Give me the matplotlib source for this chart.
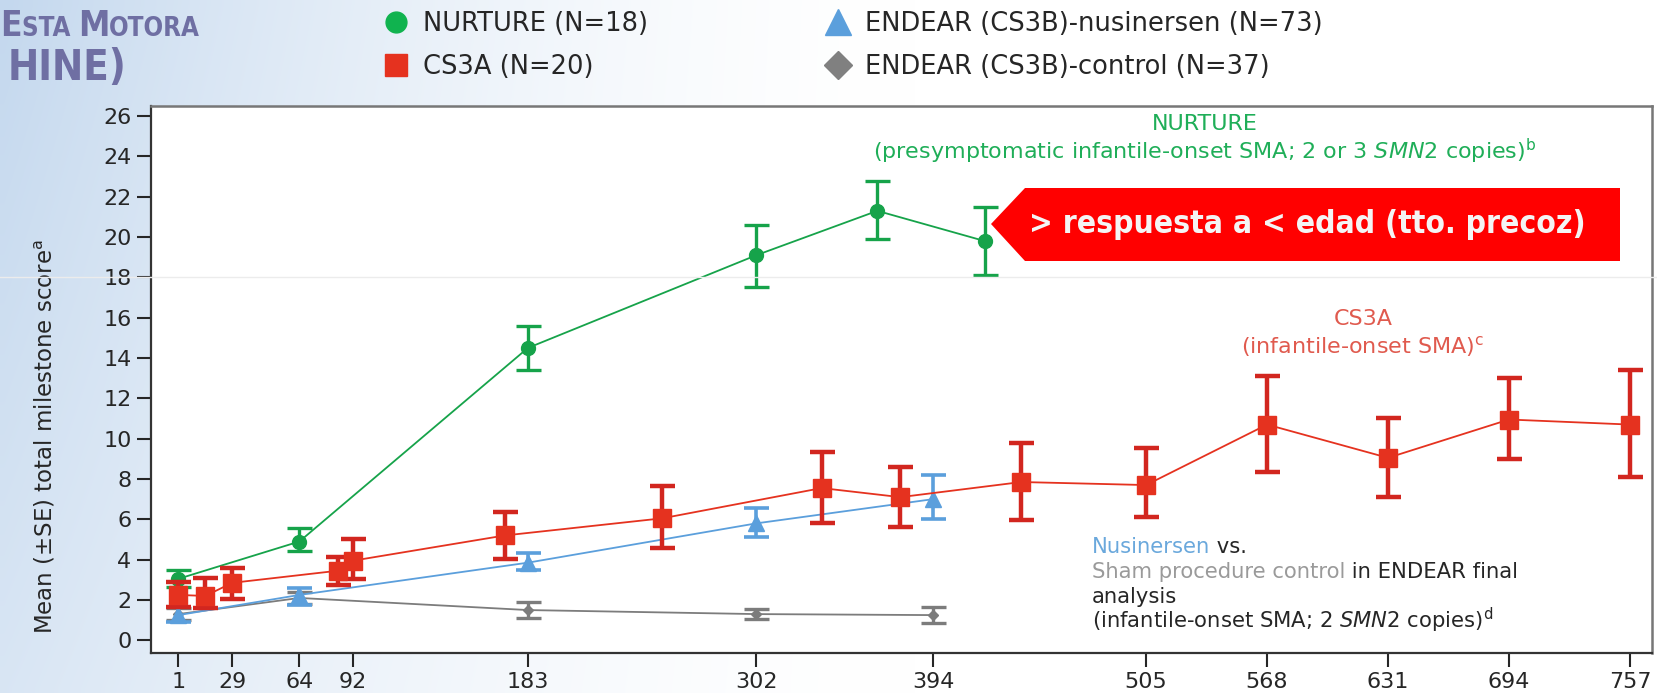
import numpy as np
import matplotlib
matplotlib.use('Agg')
import matplotlib.pyplot as plt
from matplotlib import font_manager
from matplotlib.font_manager import FontProperties
from matplotlib.lines import Line2D
from matplotlib.patches import Polygon

W, H = 1657, 693

# NURTURE
nurture_days = [1, 64, 183, 302, 365, 421]
nurture_mean = [3.05, 4.9, 14.5, 19.1, 21.3, 19.8]
nurture_lo = [2.65, 4.45, 13.4, 17.5, 19.9, 18.1]
nurture_hi = [3.5, 5.55, 15.6, 20.6, 22.8, 21.5]

# CS3A
cs3a_days = [1, 15, 29, 84, 92, 171, 253, 336, 377, 440, 505, 568, 631, 694, 757]
cs3a_mean = [2.25, 2.2, 2.85, 3.45, 3.95, 5.2, 6.05, 7.55, 7.1, 7.85, 7.7, 10.7, 9.05, 10.95, 10.7]
cs3a_lo = [1.65, 1.6, 2.05, 2.75, 3.05, 4.05, 4.6, 5.8, 5.6, 5.95, 6.1, 8.35, 7.1, 9.0, 8.1]
cs3a_hi = [2.9, 3.1, 3.6, 4.15, 5.0, 6.35, 7.65, 9.35, 8.6, 9.8, 9.55, 13.1, 11.05, 13.0, 13.4]

# ENDEAR nusinersen
nus_days = [1, 64, 183, 302, 394]
nus_mean = [1.25, 2.25, 3.85, 5.8, 7.0]
nus_lo = [0.9, 1.75, 3.5, 5.1, 6.0]
nus_hi = [1.65, 2.6, 4.35, 6.55, 8.2]

# ENDEAR control
ctrl_days = [1, 64, 183, 302, 394]
ctrl_mean = [1.3, 2.1, 1.5, 1.3, 1.25]
ctrl_lo = [1.0, 1.8, 1.1, 1.05, 0.85]
ctrl_hi = [1.6, 2.4, 1.9, 1.55, 1.65]

xticks = [1, 29, 64, 92, 183, 302, 394, 505, 568, 631, 694, 757]
yticks = list(range(0, 27, 2))

legend_labels = ['NURTURE (N=18)', 'CS3A (N=20)',
                 'ENDEAR (CS3B)-nusinersen (N=73)', 'ENDEAR (CS3B)-control (N=37)']

GREEN = '#16a34a'
RED = '#e5321f'
RED_E = '#d2261f'
BLUE = '#5b9fdc'
GRAY = '#7c7c7c'
DARK = '#262626'


def pick_narrow():
    for fam in ['Liberation Sans Narrow', 'Arial Narrow']:
        try:
            font_manager.findfont(FontProperties(family=fam, weight='bold'), fallback_to_default=False)
            return dict(family=fam), 1.0
        except ValueError:
            pass
    p = font_manager.findfont(FontProperties(family='DejaVu Sans', stretch='condensed', weight='bold'))
    if 'Condensed' in p:
        return dict(family='DejaVu Sans', stretch='condensed'), 0.76
    return dict(family='DejaVu Sans'), 0.68


plt.rcParams['font.family'] = ['DejaVu Sans']
plt.rcParams['mathtext.fontset'] = 'dejavusans'
narrow, nscale = pick_narrow()

fig = plt.figure(figsize=(W / 100, H / 100), dpi=100)
renderer = fig.canvas.get_renderer()

# fondo degradado de la diapositiva
bg = fig.add_axes([0, 0, 1, 1], zorder=-10)
gx, gy = np.meshgrid(np.linspace(0, 1, 200), np.linspace(0, 1, 80))
t = np.clip(1 - gx / 0.55, 0, 1) ** 1.6 * (1 - 0.35 * gy)
base = np.array([196, 216, 238]) / 255
img = 1 - t[..., None] * (1 - base)
bg.imshow(img, aspect='auto', interpolation='bilinear')
bg.axis('off')

ax = fig.add_axes([151 / W, 1 - 653 / H, 1501 / W, 547 / H])
ax.set_facecolor('white')


def series(days, mean, lo, hi, color, ecolor, marker, ms, elw, z):
    mean = np.array(mean)
    err = [mean - np.array(lo), np.array(hi) - mean]
    ax.plot(days, mean, color=color, lw=1.3, zorder=z)
    ax.errorbar(days, mean, yerr=err, fmt=marker, color=color, mec=color, ms=ms,
                ecolor=ecolor, elinewidth=elw, capsize=9, capthick=elw, zorder=z + 0.5)


series(ctrl_days, ctrl_mean, ctrl_lo, ctrl_hi, GRAY, GRAY, 'D', 5, 2.4, 2)
series(nus_days, nus_mean, nus_lo, nus_hi, BLUE, BLUE, '^', 12, 2.6, 3)
series(nurture_days, nurture_mean, nurture_lo, nurture_hi, GREEN, GREEN, 'o', 10, 2.4, 4)
series(cs3a_days, cs3a_mean, cs3a_lo, cs3a_hi, RED, RED_E, 's', 13, 3.2, 5)

ax.set_xlim(-13.3, 768.5)
ax.set_ylim(-0.63, 26.5)
ax.set_xticks(xticks)
ax.set_xticklabels([str(d) for d in xticks])
ax.set_yticks(yticks)
ax.tick_params(axis='both', direction='out', length=10, width=1.5, labelsize=16,
               colors=DARK, pad=4)
for s in ['left', 'bottom']:
    ax.spines[s].set_color('#333333')
    ax.spines[s].set_linewidth(1.6)
for s in ['top', 'right']:
    ax.spines[s].set_color('#777777')
    ax.spines[s].set_linewidth(1.8)

ax.set_ylabel(r'Mean ($\pm$SE) total milestone score$^\mathrm{a}$', fontsize=16.5, color=DARK)
ax.yaxis.set_label_coords(-0.062, 0.395)

# leyenda
handles = [
    Line2D([], [], ls='none', marker='o', ms=15, color='#10b34f'),
    Line2D([], [], ls='none', marker='s', ms=16, color='#e5321f'),
    Line2D([], [], ls='none', marker='^', ms=19, color='#5b9fdc'),
    Line2D([], [], ls='none', marker='D', ms=14, color='#808080'),
]
fig.legend(handles, legend_labels, ncol=2, loc='upper left', bbox_to_anchor=(383 / W, 1 - 11 / H),
           frameon=False, fontsize=18.5, handlelength=1.0, handletextpad=0.55,
           columnspacing=6.9, labelspacing=0.68, borderpad=0, borderaxespad=0, labelcolor=DARK)


def fx(px):
    return px / W


def fy(py):
    return 1 - py / H


def width_px(s, **kw):
    a = fig.text(0, 0, s + '|', **kw)
    b = fig.text(0, 0, '|', **kw)
    w = a.get_window_extent(renderer).width - b.get_window_extent(renderer).width
    a.remove()
    b.remove()
    return w


def runs(x, y, parts, size):
    for s, c in parts:
        fig.text(fx(x), fy(y), s, color=c, fontsize=size, va='baseline', ha='left')
        x += width_px(s, fontsize=size)


# anotaciones
fig.text(fx(1205), fy(124), 'NURTURE', color='#1fae58', fontsize=16, ha='center', va='center')
fig.text(fx(1205), fy(151), r'(presymptomatic infantile-onset SMA; 2 or 3 $\mathit{SMN2}$ copies)$^\mathrm{b}$',
         color='#1fae58', fontsize=16, ha='center', va='center')
fig.text(fx(1363), fy(319), 'CS3A', color='#e05a4e', fontsize=16, ha='center', va='center')
fig.text(fx(1363), fy(346), r'(infantile-onset SMA)$^\mathrm{c}$', color='#e05a4e', fontsize=16,
         ha='center', va='center')

bsize = 15.2
runs(1092, 553, [('Nusinersen', '#6aa8dc'), (' vs.', DARK)], bsize)
runs(1092, 578, [('Sham procedure control', '#9a9a9a'), (' in ENDEAR final', DARK)], bsize)
runs(1092, 603, [('analysis', DARK)], bsize)
fig.text(fx(1092), fy(628), r'(infantile-onset SMA; 2 $\mathit{SMN2}$ copies)$^\mathrm{d}$',
         color=DARK, fontsize=bsize, va='baseline', ha='left')

# linea tenue de la diapositiva
fig.add_artist(Line2D([0, 1], [fy(277), fy(277)], color='#ececec', lw=1, zorder=1))

# flecha roja
pts = [(991, 224), (1025, 188), (1620, 188), (1620, 261), (1025, 261)]
fig.add_artist(Polygon([(fx(a), fy(b)) for a, b in pts], closed=True, facecolor='#ff0000',
                       edgecolor='none', zorder=5))
fig.text(fx(1307), fy(225), '> respuesta a < edad (tto. precoz)', color='#f4f4f4',
         fontsize=30 * nscale, fontweight='bold', ha='center', va='center', zorder=6, **narrow)

# titulo recortado
tcol = '#6f6fa3'
x = 0
for s, sz in [('E', 30), ('STA ', 22), ('M', 30), ('OTORA', 22)]:
    fsz = sz * nscale / 0.9 if nscale < 1 else sz
    fig.text(fx(x), fy(36), s, color=tcol, fontsize=fsz, fontweight='bold', va='baseline',
             ha='left', **narrow)
    x += width_px(s, fontsize=fsz, fontweight='bold', **narrow)
fig.text(fx(8), fy(80), 'HINE)', color=tcol, fontsize=30, fontweight='bold', va='baseline',
         ha='left', **narrow)

fig.savefig('out.png', dpi=100)
